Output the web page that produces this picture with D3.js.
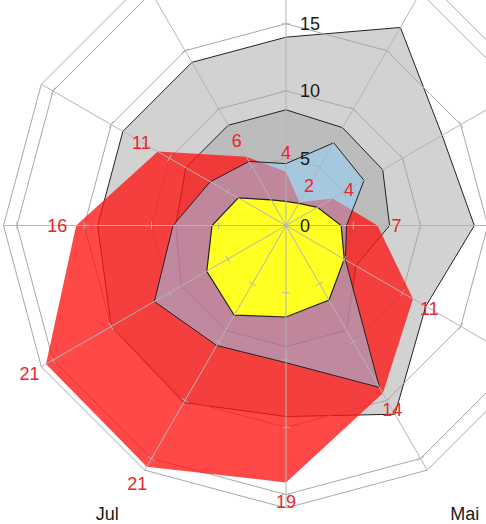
<!DOCTYPE html>
<html><head><meta charset="utf-8">
<script src="https://cdn.jsdelivr.net/npm/d3@7"></script>
<style>body{margin:0;background:#fff}svg{display:block}text{font-family:"Liberation Sans",Arial,sans-serif}</style>
</head><body><svg id="c" width="486" height="524"></svg>
<script>
const categories = ["Jan","Feb","Mär","Apr","Mai","Jun","Jul","Aug","Sep","Okt","Nov","Dez"];
const grayOuter = [17, 13.4, 14, 12, 16.2, 14.2, 15.2, 15, 14, 14, 14, 14];
const grayInner = [8.4, 8.3, 7.7, 6, 9, 9, 9, 9, 8.2, 8.6, 8.6, 8.6];
const redValues = [2, 4, 6.8, 10.9, 14.4, 19.1, 20.7, 20.6, 15.6, 11, 5.9, 4];
const blueValues = [7.1, 6.7, 4.5, 5.1, 13.9, 10.2, 10.3, 11.3, 8.4, 6.5, 5.5, 4.6];
const yellowValues = [1.9, 2.7, 4.1, 5.0, 6.4, 6.8, 7.7, 6.8, 5.5, 4.1, 2.2, 1.8];
const ringValues = [5, 10, 15, 20, 21];
const tickLabels = [0, 5, 10, 15, 20];

const W = 486, H = 524;
const cx = 286, cy = 225.5;
const svg = d3.select("#c");
const g = svg.append("g").attr("transform", `translate(${cx},${cy})`);
const r = d3.scaleLinear().domain([0, 21]).range([0, 282.5]);
const ang = i => (i + 1) * Math.PI / 6;
const radial = d3.lineRadial().angle((d, i) => ang(i)).radius(d => r(d)).curve(d3.curveLinearClosed);
const xy = (v, i) => [r(v) * Math.sin(ang(i)), -r(v) * Math.cos(ang(i))];

// series fills
g.append("path").attr("d", radial(grayOuter)).attr("fill", "#d2d2d2").attr("stroke", "#222").attr("stroke-width", 1);
g.append("path").attr("d", radial(grayInner)).attr("fill", "#bcbcbc").attr("stroke", "#222").attr("stroke-width", 1);

// rings
ringValues.forEach(v => {
  g.append("path").attr("d", radial(categories.map(() => v))).attr("fill", "none").attr("stroke", "#a8a8a8").attr("stroke-width", 1);
});

g.append("path").attr("d", radial(redValues)).attr("fill", "rgba(255,20,20,0.78)");
g.append("path").attr("d", radial(blueValues)).attr("fill", "rgba(142,212,255,0.5)").attr("stroke", "#222").attr("stroke-width", 1);
g.append("path").attr("d", radial(yellowValues)).attr("fill", "#ffff22").attr("stroke", "#222").attr("stroke-width", 1.2);

// spokes and ticks
categories.forEach((c, i) => {
  const [x2, y2] = xy(21, i);
  g.append("line").attr("x1", 0).attr("y1", 0).attr("x2", x2).attr("y2", y2).attr("stroke", "#b4b4b4").attr("stroke-width", 1);
  [5, 10, 15, 20].forEach(v => {
    const [px, py] = xy(v, i);
    const a = ang(i);
    const ux = Math.cos(a) * 4, uy = Math.sin(a) * 4;
    g.append("line").attr("x1", px - ux).attr("y1", py - uy).attr("x2", px + ux).attr("y2", py + uy).attr("stroke", "#b4b4b4").attr("stroke-width", 1);
  });
});

const labels = [];
// axis labels
tickLabels.forEach(v => {
  labels.push(g.append("text").attr("x", 14).attr("y", -r(v)).attr("dy", "0.36em").attr("font-size", 18).attr("fill", "#1a1a1a").text(v));
});

// red data labels
redValues.forEach((v, i) => {
  const a = ang(i);
  const [px, py] = xy(v, i);
  const d = 19;
  labels.push(g.append("text").attr("x", px + d * Math.sin(a)).attr("y", py - d * Math.cos(a)).attr("dy", "0.36em")
    .attr("text-anchor", "middle").attr("font-size", 18).attr("fill", "#e8262b").text(Math.round(v)));
});

// category labels
categories.forEach((c, i) => {
  const a = ang(i);
  const rr = r(21) + 55;
  const s = Math.sin(a);
  labels.push(g.append("text").attr("x", rr * s + (Math.abs(s) > 0.1 ? Math.sign(s) * 10 : 0)).attr("y", -rr * Math.cos(a) - 4)
    .attr("dy", "0.36em").attr("text-anchor", "middle").attr("font-size", 18).attr("fill", "#1a1a1a").text(c));
});

// texts lying entirely outside the visible (cropped) area are dropped; partly visible ones are kept
labels.forEach(t => {
  const b = t.node().getBBox();
  const x0 = b.x + cx, y0 = b.y + cy;
  if (x0 + b.width < 0 || y0 + b.height < 0 || x0 > W || y0 > H) t.remove();
});
</script></body></html>
